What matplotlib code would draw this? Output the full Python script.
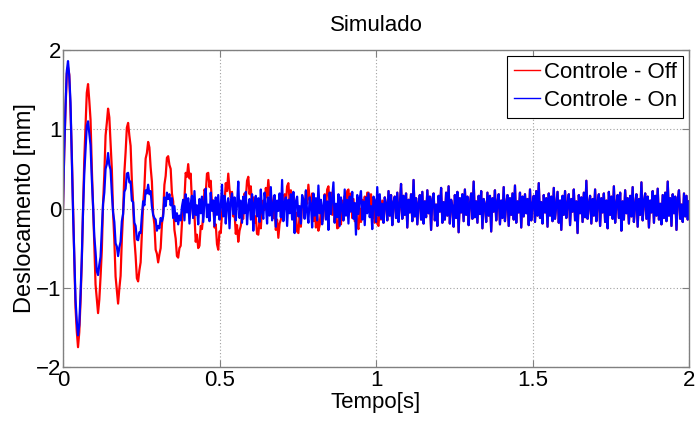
import numpy as np
import matplotlib
matplotlib.use("Agg")
import matplotlib.pyplot as plt

passo = 0.004

# Controle - Off: inicio (0 a 1.02 s)
off_ini = [
    0, 72, 125, 170, 178, 169, 124, 71, 3, -62, -125, -155, -175, -156, -118, -68,
    -4, 62, 104, 146, 157, 136, 112, 52, 5, -45, -96, -114, -132, -115, -86, -53,
    6, 43, 92, 108, 126, 115, 82, 50, -5, -40, -86, -103, -120, -101, -85, -39,
    -6, 45, 71, 102, 108, 92, 79, 35, 8, -38, -60, -88, -92, -78, -68, -30,
    5, 26, 63, 70, 84, 77, 52, 34, -7, -20, -52, -57, -68, -58, -50, -20,
    -6, 30, 41, 64, 66, 55, 50, 19, 9, -27, -38, -60, -62, -50, -47, -18,
    10, 12, 45, 40, 56, 38, 44, 8, -12, -8, -42, -33, -50, -47, -22, -26,
    -9, 24, 19, 44, 45, 27, 35, 4, 10, -24, -20, -45, -52, -29, -31, -6,
    12, 6, 32, 22, 44, 24, 14, 21, -10, -5, -32, -21, -42, -28, -22, -10,
    -13, 19, 12, 35, 40, 18, 28, 0, 14, -18, -10, -32, -33, -15, -25, 3,
    10, -2, 26, 14, 36, 16, 18, 8, -12, 1, -27, -14, -37, -19, -14, -6,
    -14, 18, 5, 28, 32, 9, 23, -8, 16, -18, -5, -29, -31, -8, -23, 9,
    12, -8, 22, 6, 30, 11, 8, 19, -16, 4, -24, -6, -28, -21, -2, -17,
    -10, 18, -1, 24, 28, 3, 20, -8, 14, -17, 2, -25, -24, -4, -20, 10,
    -15, 16, -4, 22, 24, 0, 19, -12, 12, -16, 6, -21, -26, 0, -17, 11,
    -8, 15, -2, 20, 20, 1, 18, -13, 14, -18, 1, -19, -22, 3, -14, 10,
]

# Controle - On: inicio (0 a 1.02 s)
on_ini = [
    2, 74, 128, 173, 186, 167, 134, 66, -3, -57, -115, -142, -160, -147, -108, -63,
    -3, 44, 73, 104, 110, 95, 80, 38, 4, -35, -55, -79, -84, -71, -61, -27,
    6, 20, 50, 56, 70, 55, 49, 20, -5, -17, -44, -48, -60, -49, -42, -16,
    -7, 21, 25, 44, 45, 33, 34, 10, 8, -18, -22, -39, -40, -30, -31, -9,
    9, 4, 23, 19, 30, 18, 22, 3, -8, -12, -14, -28, -22, -25, -12, -16,
    -10, 14, 3, 20, 12, 18, 4, 13, -12, 3, -16, -6, -20, -9, -15, 2,
    11, -15, 18, -5, 13, -19, 7, 16, -12, 22, -8, 4, -20, 12, -6, 15,
    -17, 9, 25, -11, 5, -16, 20, -3, 10, -22, 14, -8, 17, -14, 2, 30,
    -10, 16, -19, 6, 13, -25, 9, 19, -7, 14, -15, 5, 34, -12, 10, -18,
    15, -6, 21, -20, 3, 12, -14, 18, -28, 7, 16, -10, 13, -17, 24, -5,
    -13, 20, 6, -19, 14, -9, 27, -15, 4, 17, -23, 10, -3, 19, -11, 36,
    -16, 7, 14, -22, 11, -6, 18, -14, 21, -31, 9, 15, -10, 3, -19, 17,
    10, -13, 23, -5, -18, 14, 6, -24, 19, -9, 13, -15, 29, -6, 11, -20,
    4, 17, -14, 9, -27, 20, -7, 13, 33, -18, 6, -11, 18, -22, 14, 2,
    -15, 24, -9, 11, -19, 15, -4, 21, -13, 7, -33, 17, -7, 13, 22, -14,
    9, -21, 14, -6, 19, -11, 3, -26, 15, 10, -17, 27, -9, 18, -13, 6,
]

# trecho final (1.024 a 2 s), so ruido, igual nas duas curvas
ruido_final = [
    -18, 14, 6, -15, 22, -9, 17, -21, 8, 15, -12, 20, -17, 4, 31, -13,
    16, -8, 19, -24, 11, -5, 18, -16, 36, -10, 13, -20, 7, 17, -14, 21,
    -19, 9, -11, 23, -6, 15, -27, 12, 19, -15, 5, -22, 16, -4, 26, -18,
    8, -14, 20, -9, 28, -19, 11, 3, -23, 17, -12, 21, -30, 13, -5, 18,
    -16, 24, -8, 15, -21, 6, 19, -13, 34, -11, 9, -18, 16, -7, 22, -25,
    12, 5, -17, 20, -9, 16, -29, 13, -4, 23, -15, 8, 18, -20, 10, -12,
    27, -16, 6, 17, -22, 13, -8, 19, -14, 29, -18, 9, -5, 20, -24, 15,
    -10, 18, -6, 12, -21, 24, -15, 5, 16, -17, 22, -9, 32, -12, 8, -19,
    17, -5, 13, -23, 19, -9, 15, -16, 26, -13, 4, 21, -18, 10, -27, 16,
    -8, 22, -12, 6, 18, -21, 12, -4, 24, -15, 9, -31, 17, -6, 14, -17,
    20, -11, 35, -13, 5, 16, -19, 12, -9, 24, -16, 8, 18, -22, 13, -5,
    19, -17, 10, -25, 21, -8, 15, -13, 28, -18, 6, 17, -12, 20, -28, 9,
    -14, 23, -6, 13, -19, 16, -10, 27, -17, 5, 18, -23, 12, -8, 33, -15,
    9, 19, -13, 15, -24, 10, -5, 22, -18, 16, -9, 25, -14, 6, -20, 17,
    -12, 20, -16, 34, -9, 13, -22, 18, -6, 15, -27, 11, 23, -13, 5, -17,
    19, -10, 16, -14, 9,
]

desl_off = np.array(off_ini + ruido_final) / 100
desl_on = np.array(on_ini + ruido_final) / 100
tempo = np.arange(len(desl_off)) * passo

plt.rcParams['font.family'] = ['Liberation Sans', 'DejaVu Sans']

fig = plt.figure(figsize=(6.96, 4.23), dpi=100)
ax = fig.add_axes([63/696, 1 - 367/423, 626/696, 317/423])

ax.plot(tempo, desl_off, color="#ff0000", lw=1.6, label="Controle - Off")
ax.plot(tempo, desl_on, color="#0000ff", lw=1.6, label="Controle - On")

ax.set_xlim(0, 2)
ax.set_ylim(-2, 2)
ax.set_xticks([0, 0.5, 1, 1.5, 2])
ax.set_xticklabels(["0", "0.5", "1", "1.5", "2"])
ax.set_yticks([-2, -1, 0, 1, 2])
ax.grid(True, linestyle=(0, (1, 2)), color="#a0a0a0", lw=0.8)
ax.set_axisbelow(True)

for s in ax.spines.values():
    s.set_color("#808080")
    s.set_linewidth(1.0)
ax.tick_params(direction="in", length=5, color="#808080", labelsize=16,
               top=True, right=True)
ax.tick_params(axis="x", pad=2)
ax.tick_params(axis="y", pad=1)

ax.set_xlabel("Tempo[s]", fontsize=16, labelpad=1)
ax.set_ylabel("Deslocamento [mm]", fontsize=17, labelpad=0)
ax.set_title("Simulado", fontsize=16, pad=14)

leg = ax.legend(loc="upper right", fontsize=16, frameon=True, fancybox=False,
                framealpha=1, edgecolor="black", handlelength=1.2,
                handletextpad=0.15, borderpad=0.3, labelspacing=0.3,
                borderaxespad=0.25)
leg.get_frame().set_linewidth(0.8)
for ln in leg.get_lines():
    ln.set_linewidth(1.0)

fig.savefig("out.png", dpi=100)
